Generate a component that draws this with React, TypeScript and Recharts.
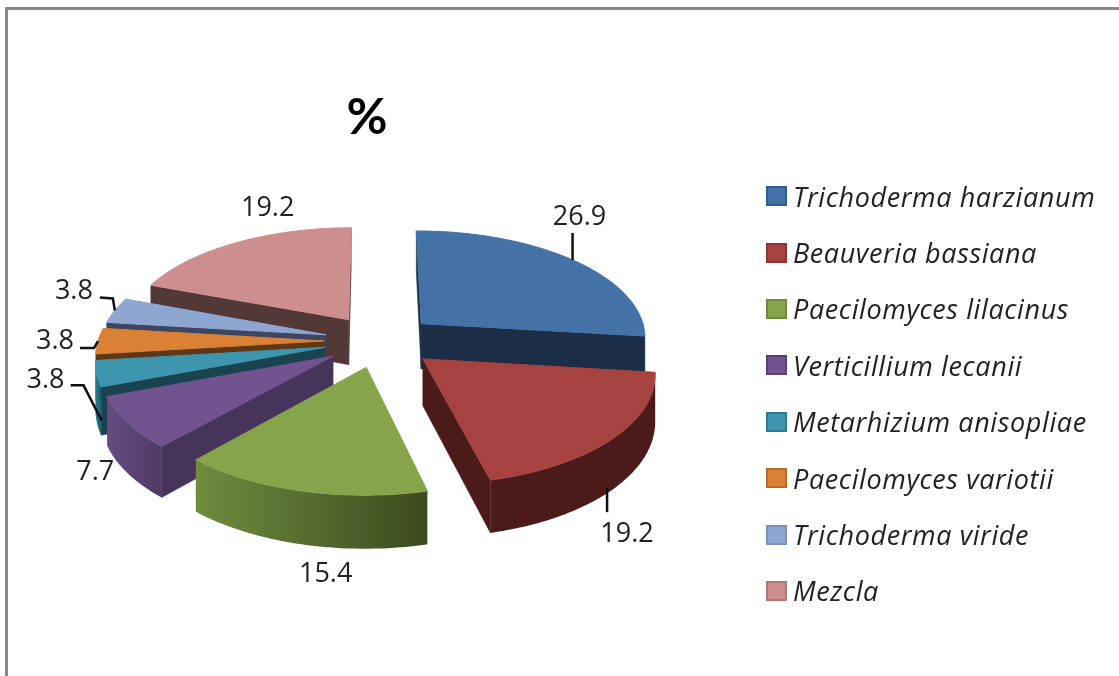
import { Legend, Pie, PieChart } from 'recharts'

const SPECIES = [
  'Trichoderma harzianum',
  'Beauveria bassiana',
  'Paecilomyces lilacinus',
  'Verticillium lecanii',
  'Metarhizium anisopliae',
  'Paecilomyces variotii',
  'Trichoderma viride',
  'Mezcla',
]
const PERCENTS = [26.9, 19.2, 15.4, 7.7, 3.8, 3.8, 3.8, 19.2]
const TOP_COLORS = ['#4471a6', '#a6423f', '#86a44c', '#72538f', '#3e95ae', '#da8136', '#8fa6d1', '#cd8f8e']
const SWATCH_EDGES = ['#2f5f92', '#8c3532', '#6f8a3c', '#5b3f78', '#2f7b92', '#b96a24', '#7b92bd', '#b27675']
const WALL_LEFT = ['#1b2e46', '#4a1b19', '#6f8c3e', '#664c80', '#2c7f95', '#5e3817', '#3c4660', '#533838']
const WALL_RIGHT = ['#1b2e46', '#4a1b19', '#3b4a20', '#4e3a66', '#1f5a6b', '#5e3817', '#3c4660', '#533838']
const RADIAL_WALLS = ['#1b2e46', '#4a1b19', '#3b4a20', '#47345a', '#1a4350', '#5e3817', '#3c4660', '#533838']

// painter's order: later slices overlap earlier ones, so the pie runs counter clockwise from the back
const DRAW_ORDER = [0, 7, 6, 5, 4, 3, 2, 1]
const pieData = DRAW_ORDER.map((i) => ({ name: SPECIES[i], value: PERCENTS[i], fill: TOP_COLORS[i] }))

// label text offset and leader line, relative to the point on the rim of each slice
const LABEL_OFFSETS = [[7, -45], [14, 42], [24, 27], [-32, -4], [-51, -44], [-43, -3], [-41, -22], [32, -37]]
const LEADERS = [
  [[0, 0], [0, -27]],
  [[-6, -1], [-6, 23]],
  [],
  [],
  [[5, -1], [-13, -36], [-26, -36]],
  [[0, 0], [-4, 7], [-18, 7]],
  [[0, 0], [-2, -12], [-15, -13]],
  [],
]

const CX = 380
const CY = 341
const RADIUS = 226
const EXPLODE = 56
const DEPTH = 46
const TILT = 0.473
const FOCAL = 2000
const FONT = '"Open Sans", sans-serif'

const rad = (deg: number) => (deg * Math.PI) / 180

// floor coordinates (u right, v towards the viewer) to screen, with a bit of perspective
function project(u: number, v: number, drop = 0) {
  const s = FOCAL / (FOCAL - v)
  return { x: CX + u * s, y: CY + TILT * v * s + drop * s }
}

const polar = (theta: number, r: number, mid: number, drop = 0) =>
  project(
    EXPLODE * Math.sin(rad(mid)) + r * Math.sin(rad(theta)),
    -EXPLODE * Math.cos(rad(mid)) - r * Math.cos(rad(theta)),
    drop,
  )

const toPath = (pts: { x: number; y: number }[]) =>
  pts.map((p, i) => `${i ? 'L' : 'M'}${p.x.toFixed(1)},${p.y.toFixed(1)}`).join(' ') + ' Z'

function SliceShape(props: any) {
  const i = SPECIES.indexOf(props.name ?? props.payload?.name)
  // recharts angles are counter clockwise from 3 o'clock, theta is clockwise from 12 o'clock
  const from = 90 - props.endAngle
  const to = 90 - props.startAngle
  const mid = (from + to) / 2
  const steps = Math.max(6, Math.ceil(to - from))
  const angles = Array.from({ length: steps + 1 }, (_, k) => from + ((to - from) * k) / steps)

  const apex = polar(0, 0, mid)
  const apexLow = polar(0, 0, mid, DEPTH)
  const rim = angles.map((a) => polar(a, RADIUS, mid))
  const rimLow = angles.map((a) => polar(a, RADIUS, mid, DEPTH))

  // only walls whose top edge runs leftwards on a clockwise outline face the viewer
  const front: number[] = []
  angles.forEach((_, k) => {
    if (k < steps && rim[k + 1].x < rim[k].x) front.push(k)
  })
  const first = front[0]
  const last = front.length ? front[front.length - 1] + 1 : 0
  const gradId = `wall-${i}`
  const seam = RADIAL_WALLS[i]

  return (
    <g>
      <defs>
        <linearGradient id={gradId} x1="0" y1="0" x2="1" y2="0">
          <stop offset="0%" stopColor={WALL_LEFT[i]} />
          <stop offset="100%" stopColor={WALL_RIGHT[i]} />
        </linearGradient>
      </defs>
      {apex.x > rim[0].x && (
        <path d={toPath([apex, rim[0], rimLow[0], apexLow])} fill={seam} stroke={seam} strokeWidth={0.5} />
      )}
      {rim[steps].x > apex.x && (
        <path d={toPath([rim[steps], apex, apexLow, rimLow[steps]])} fill={seam} stroke={seam} strokeWidth={0.5} />
      )}
      {front.length > 0 && (
        <path
          d={toPath([...rim.slice(first, last + 1), ...rimLow.slice(first, last + 1).reverse()])}
          fill={`url(#${gradId})`}
          stroke="none"
        />
      )}
      <path d={toPath([apex, ...rim])} fill={TOP_COLORS[i]} stroke={TOP_COLORS[i]} strokeWidth={1} strokeLinejoin="round" />
    </g>
  )
}

function SliceLabel(props: any) {
  const i = SPECIES.indexOf(props.name ?? props.payload?.name)
  const theta = 90 - props.midAngle
  const isFront = Math.cos(rad(theta)) < -0.05
  const end = polar(theta, RADIUS, theta, isFront ? DEPTH : 0)
  const [dx, dy] = LABEL_OFFSETS[i]
  const leader = LEADERS[i].map(([lx, ly]) => `${end.x + lx},${end.y + ly}`)
  return (
    <g>
      {leader.length > 0 && <polyline points={leader.join(' ')} fill="none" stroke="#111" strokeWidth={2.5} />}
      <text
        x={end.x + dx}
        y={end.y + dy}
        textAnchor="middle"
        dominantBaseline="central"
        fontFamily={FONT}
        fontSize={27}
        fill="#222"
      >
        {PERCENTS[i]}
      </text>
    </g>
  )
}

function SpeciesLegend() {
  return (
    <div>
      {SPECIES.map((name, i) => (
        <div key={name} style={{ display: 'flex', alignItems: 'center', height: 56.4 }}>
          <span
            style={{
              width: 17,
              height: 16,
              marginRight: 6,
              background: TOP_COLORS[i],
              border: `2px solid ${SWATCH_EDGES[i]}`,
              flex: 'none',
            }}
          />
          <span
            style={{
              fontFamily: FONT,
              fontStyle: 'italic',
              fontSize: 27,
              letterSpacing: 0.6,
              color: '#222',
              whiteSpace: 'nowrap',
            }}
          >
            {name}
          </span>
        </div>
      ))}
    </div>
  )
}

export default function App() {
  const blueSweep = (PERCENTS[0] / 100) * 360
  return (
    <div
      style={{
        position: 'absolute',
        left: 0,
        top: 0,
        width: 1119,
        height: 676,
        overflow: 'hidden',
        background: '#fff',
        filter: 'blur(0.5px)',
      }}
    >
      <div
        style={{
          position: 'absolute',
          left: 5,
          top: 7,
          width: 1200,
          height: 800,
          borderLeft: '3px solid #888',
          borderTop: '3px solid #888',
        }}
      />
      <PieChart width={1119} height={676} style={{ position: 'absolute', left: 0, top: 0 }}>
        <text
          x={367}
          y={115}
          textAnchor="middle"
          dominantBaseline="central"
          fontFamily="Lato, sans-serif"
          fontWeight={700}
          fontSize={50}
          fill="#000"
        >
          %
        </text>
        <Pie
          data={pieData}
          dataKey="value"
          nameKey="name"
          cx={CX}
          cy={CY}
          innerRadius={0}
          outerRadius={RADIUS}
          startAngle={90 - blueSweep}
          endAngle={450 - blueSweep}
          stroke="none"
          shape={SliceShape}
          label={SliceLabel}
          labelLine={false}
          isAnimationActive={false}
        />
        <Legend
          layout="vertical"
          align="left"
          verticalAlign="top"
          content={<SpeciesLegend />}
          wrapperStyle={{ left: 766, top: 168, width: 350 }}
        />
      </PieChart>
    </div>
  )
}
